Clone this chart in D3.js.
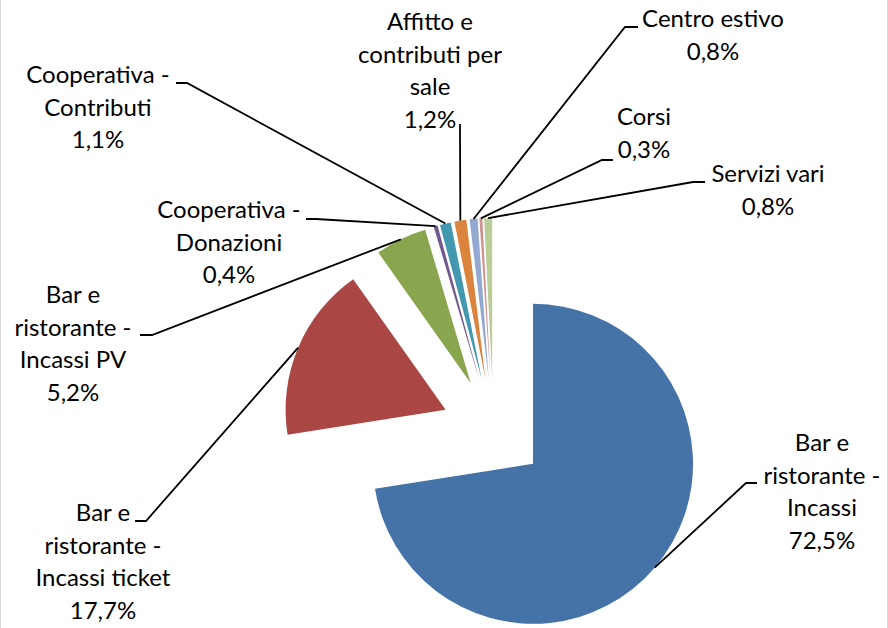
<!DOCTYPE html>
<html>
<head>
<meta charset="utf-8">
<script src="https://cdn.jsdelivr.net/npm/d3@7"></script>
<style>
    body { margin: 0; background: #fff; }
    svg { display: block; }
    .label { font-family: Lato, "Open Sans", sans-serif; font-size: 24px; fill: #000; }
    .leader { fill: none; stroke: #000; stroke-width: 1.8px; }
</style>
</head>
<body>
<svg width="888" height="628"></svg>
<script>
// exploded pie, slices clockwise from 12 o'clock
const categories = [
    'Bar e ristorante - Incassi',
    'Bar e ristorante - Incassi ticket',
    'Bar e ristorante - Incassi PV',
    'Cooperativa - Donazioni',
    'Cooperativa - Contributi',
    'Affitto e contributi per sale',
    'Centro estivo',
    'Corsi',
    'Servizi vari'
];
const values = [72.5, 17.7, 5.2, 0.4, 1.1, 1.2, 0.8, 0.3, 0.8];

// how the category names wrap in the labels
const labelLines = [
    ['Bar e', 'ristorante -', 'Incassi'],
    ['Bar e', 'ristorante -', 'Incassi ticket'],
    ['Bar e', 'ristorante -', 'Incassi PV'],
    ['Cooperativa -', 'Donazioni'],
    ['Cooperativa -', 'Contributi'],
    ['Affitto e', 'contributi per', 'sale'],
    ['Centro estivo'],
    ['Corsi'],
    ['Servizi vari']
];

const colors = ['#4572A7', '#AA4643', '#89A54E', '#71588F', '#4198AF', '#DB843D', '#93A9CF', '#D19392', '#B9CD96'];

// label layout: text centre / first baseline, leader elbow and end
const layout = [
    { tx: 822, ty: 451, elbow: [746, 483], end: [757, 483] },
    { tx: 103, ty: 521, elbow: [146, 521], end: [135, 521] },
    { tx: 73,  ty: 303, elbow: [152, 335], end: [140, 335] },
    { tx: 229, ty: 218, elbow: [316, 219], end: [306, 219] },
    { tx: 98,  ty: 83,  elbow: [187, 83],  end: [176, 83] },
    { tx: 430, ty: 30,  elbow: [460, 131], end: [460, 124] },
    { tx: 713, ty: 27,  elbow: [625, 27],  end: [638, 27] },
    { tx: 644, ty: 125, elbow: [602, 160], end: [613, 160] },
    { tx: 768, ty: 182, elbow: [693, 182], end: [705, 182] }
];

const width = 888;
const height = 628;
const cx = 493.5;
const cy = 430;
const radius = 160;
const explode = 52;
const lineHeight = 32.5;

const svg = d3.select('svg');

// chart frame edges
svg.append('line').attr('x1', 0.5).attr('x2', 0.5).attr('y1', 0).attr('y2', height)
    .attr('stroke', '#d9d9d9');
svg.append('line').attr('x1', width - 0.5).attr('x2', width - 0.5).attr('y1', 0).attr('y2', height)
    .attr('stroke', '#d9d9d9');

const it = d3.formatLocale({ decimal: ',', thousands: '.', grouping: [3], currency: ['', '€'] });
const pct = it.format('.1f');
const total = d3.sum(values);

const pie = d3.pie().sort(null).value(d => d);
const arcs = pie(values);

const arc = d3.arc().innerRadius(0).outerRadius(radius);

// offset of each slice along its mid angle
const offset = (d, r) => {
    const a = (d.startAngle + d.endAngle) / 2;
    return [Math.sin(a) * r, -Math.cos(a) * r];
};

const g = svg.append('g').attr('transform', `translate(${cx},${cy})`);

g.selectAll('path.slice')
    .data(arcs)
    .enter().append('path')
    .attr('class', 'slice')
    .attr('fill', (d, i) => colors[i])
    .attr('transform', d => {
        const o = offset(d, explode);
        return `translate(${o[0]},${o[1]})`;
    })
    .attr('d', arc);

// leader lines
svg.selectAll('path.leader')
    .data(arcs)
    .enter().append('path')
    .attr('class', 'leader')
    .attr('d', (d, i) => {
        const o = offset(d, explode + radius);
        const p0 = [cx + o[0], cy + o[1]];
        return d3.line()([p0, layout[i].elbow, layout[i].end]);
    });

// labels
const labels = svg.selectAll('text.label')
    .data(arcs)
    .enter().append('text')
    .attr('class', 'label')
    .attr('text-anchor', 'middle')
    .attr('x', (d, i) => layout[i].tx)
    .attr('y', (d, i) => layout[i].ty);

labels.each(function(d, i) {
    const lines = labelLines[i].concat([pct(values[i] / total * 100) + '%']);
    d3.select(this).selectAll('tspan')
        .data(lines)
        .enter().append('tspan')
        .attr('x', layout[i].tx)
        .attr('dy', (t, j) => j === 0 ? 0 : lineHeight)
        .text(t => t);
});
</script>
</body>
</html>
